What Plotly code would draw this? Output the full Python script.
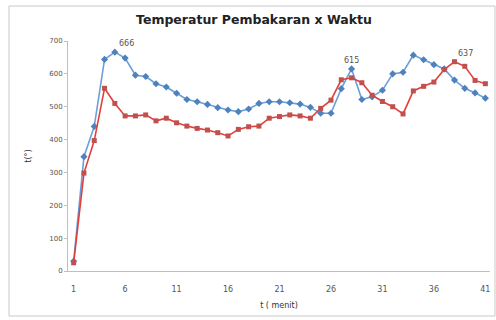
import plotly.graph_objects as go

minutes = list(range(1, 42))
series_a = [30, 348, 440, 644, 666, 648, 596, 592, 570, 560, 541, 522, 515, 507, 497,
            490, 485, 493, 510, 515, 515, 512, 508, 498, 480, 480, 555, 615, 522, 530,
            550, 600, 605, 657, 643, 628, 615, 581, 556, 542, 526]
series_b = [25, 298, 397, 556, 510, 472, 472, 475, 457, 465, 451, 441, 434, 429, 421,
            411, 431, 439, 441, 465, 470, 475, 472, 465, 495, 520, 582, 588, 573, 535,
            516, 500, 478, 548, 562, 575, 613, 637, 623, 580, 570]
x_ticks = [1, 6, 11, 16, 21, 26, 31, 36, 41]
y_ticks = [0, 100, 200, 300, 400, 500, 600, 700]
labels = [("a", 5, "left"), ("a", 28, "center"), ("b", 38, "left")]

fig = go.Figure()
fig.add_trace(go.Scatter(x=minutes, y=series_a, mode="lines+markers",
                         line=dict(color="#6A9FD8", width=1.6),
                         marker=dict(symbol="diamond", size=5.5, color="#4F81BD"),
                         showlegend=False))
fig.add_trace(go.Scatter(x=minutes, y=series_b, mode="lines+markers",
                         line=dict(color="#E0403C", width=1.6),
                         marker=dict(symbol="square", size=5, color="#C0504D"),
                         showlegend=False))

data = {"a": series_a, "b": series_b}
for s, m, anchor in labels:
    v = data[s][m - 1]
    fig.add_annotation(x=m, y=v, text=str(v), showarrow=False, xanchor=anchor,
                       yanchor="bottom", xshift=2 if anchor == "left" else 0, yshift=2,
                       font=dict(size=8, color="#555555", family="DejaVu Sans"))

fig.update_layout(
    width=496, height=320,
    margin=dict(l=68, r=6, t=41, b=49),
    paper_bgcolor="white", plot_bgcolor="white",
    title=dict(text="<b>Temperatur Pembakaran x Waktu</b>", x=0.512, xanchor="center",
               xref="container", y=0.94, yanchor="middle",
               font=dict(size=12.5, color="#222222", family="DejaVu Sans")),
    font=dict(family="DejaVu Sans", size=8, color="#555555"),
    shapes=[dict(type="rect", xref="paper", yref="paper", x0=-0.1398, x1=1.0118,
                 y0=-0.1957, y1=1.152, line=dict(color="#C8C8C8", width=1))],
)
fig.update_xaxes(range=[0.45, 41.45], tickvals=x_ticks, ticktext=[str(t) for t in x_ticks],
                 showgrid=False, zeroline=False, showline=True, linecolor="#BFBFBF",
                 ticks="", ticklabelstandoff=10, tickfont=dict(size=8, color="#555555"),
                 title=dict(text="t ( menit)", font=dict(size=8, color="#333333"), standoff=9))
fig.update_yaxes(range=[0, 700], tickvals=y_ticks, showgrid=False, zeroline=False,
                 showline=True, linecolor="#BFBFBF", ticks="outside", ticklen=3,
                 tickcolor="#BFBFBF", tickfont=dict(size=7, color="#555555"),
                 title=dict(text="t(°)", font=dict(size=8, color="#333333"), standoff=16))

fig.write_html("out.html", config={"displayModeBar": False},
               post_script="document.body.style.margin='0px';")
